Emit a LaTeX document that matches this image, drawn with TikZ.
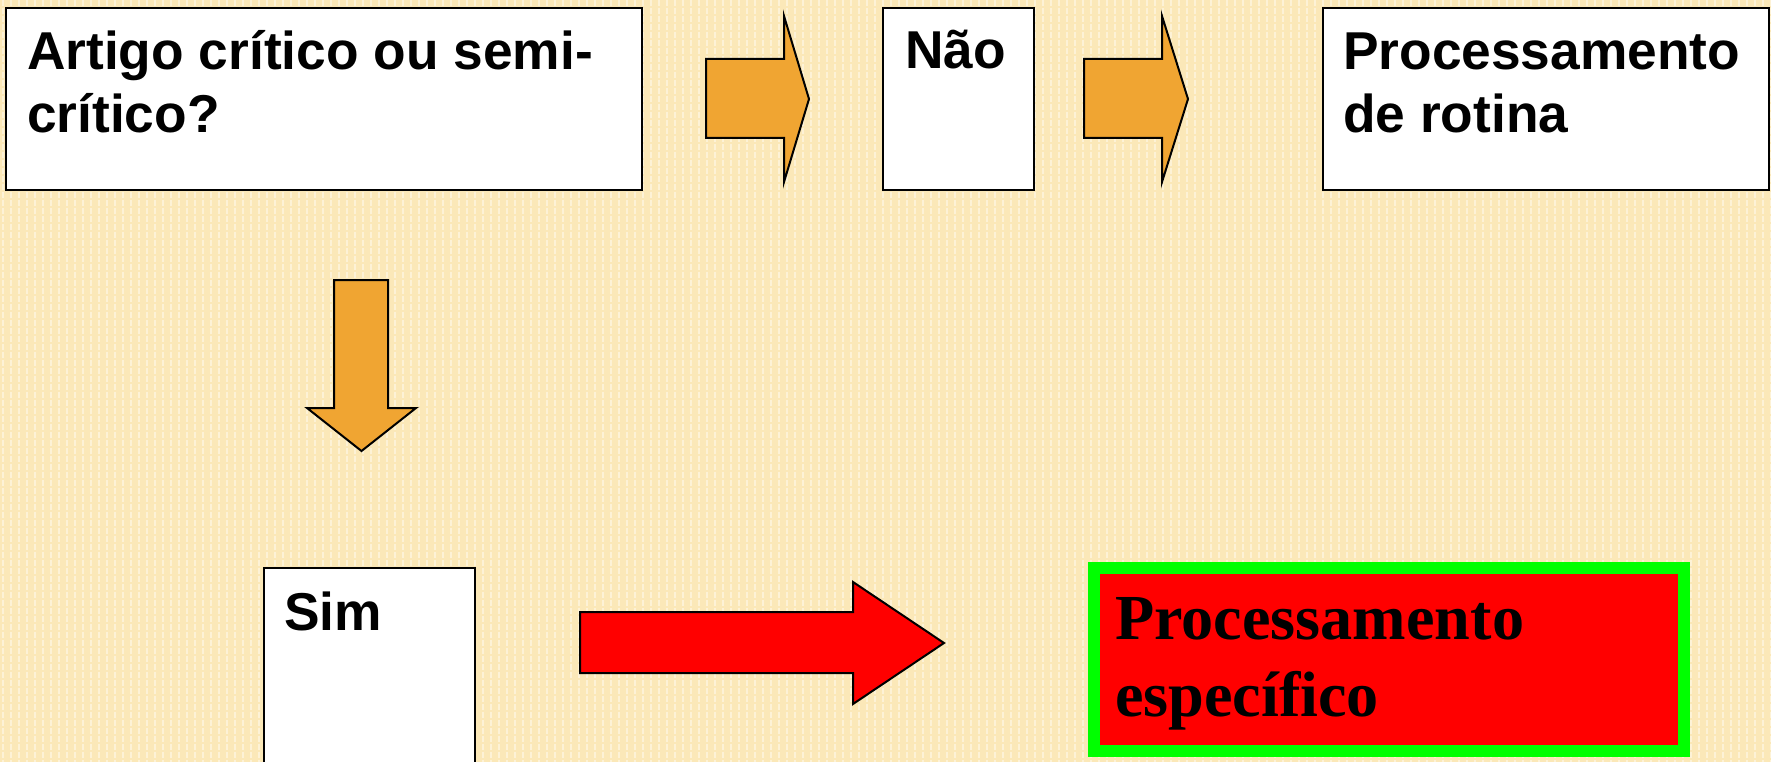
\documentclass[tikz,border=0pt]{standalone}
\usepackage{fontspec}
\setmainfont{Liberation Sans}
\newfontfamily\serifbold{Liberation Serif}
\definecolor{paper}{HTML}{FBE8B8}
\definecolor{paperlight}{HTML}{FDF2D6}
\definecolor{arroworange}{HTML}{F0A532}
\definecolor{alertred}{HTML}{FF0000}
\definecolor{framegreen}{HTML}{00FF00}
\tikzset{
  box/.style={draw=black, line width=2pt, fill=white, inner sep=0pt, anchor=north west},
  boxtext/.style={inner sep=0pt, anchor=base west, align=left, font=\bfseries\fontsize{53.3}{63}\selectfont},
  blockarrow/.style={draw=black, line width=2pt, line join=miter, fill=arroworange},
  redarrow/.style={blockarrow, fill=alertred},
}
\begin{document}
\begin{tikzpicture}[x=1pt, y=-1pt]
\useasboundingbox (0,0) rectangle (1771,762);
\begin{scope}
\clip (0,0) rectangle (1771,762);
% textured paper background
\fill[paper] (0,0) rectangle (1771,762);
\foreach \i in {0,...,221}
  \draw[paperlight, line width=1.6pt, dash pattern=on 6pt off 2pt] (\i*8+3,0) -- (\i*8+3,762);

% question box (text nodes are placed by the baseline of their last line)
\node[box, minimum width=636pt, minimum height=182pt] (q) at (5,7) {};
\node[boxtext] (qt) at (27,133) {Artigo crítico ou semi-\\crítico?};

% "no" branch
\node[box, minimum width=151pt, minimum height=182pt] (nao) at (882,7) {};
\node[boxtext] (naot) at (905,69) {Não};
\node[box, minimum width=446pt, minimum height=182pt] (rot) at (1322,7) {};
\node[boxtext] (rott) at (1343,133) {Processamento\\de rotina};

\draw[blockarrow] (706,59) -- (784,59) -- (784,16) -- (809,99) -- (784,182) -- (784,138) -- (706,138) -- cycle;
\draw[blockarrow] (1084,59) -- (1162,59) -- (1162,16) -- (1188,99) -- (1162,182) -- (1162,138) -- (1084,138) -- cycle;

% "yes" branch
\draw[blockarrow] (334,280) -- (388,280) -- (388,408) -- (416,408) -- (361.5,451) -- (307,408) -- (334,408) -- cycle;
\node[box, minimum width=211pt, minimum height=220pt] (sim) at (263,567) {};
\node[boxtext] (simt) at (284,630) {Sim};

\draw[redarrow] (580,612) -- (853,612) -- (853,582) -- (944,643) -- (853,704) -- (853,673) -- (580,673) -- cycle;

\node[draw=framegreen, line width=12pt, fill=alertred, inner sep=0pt, anchor=north west,
      minimum width=590pt, minimum height=183pt] (esp) at (1088,562) {};
\node[inner sep=0pt, anchor=base west, align=left, font=\serifbold\bfseries\fontsize{64.2}{77}\selectfont]
  (espt) at (1115,716) {Processamento\\específico};
\end{scope}
\end{tikzpicture}
\end{document}
